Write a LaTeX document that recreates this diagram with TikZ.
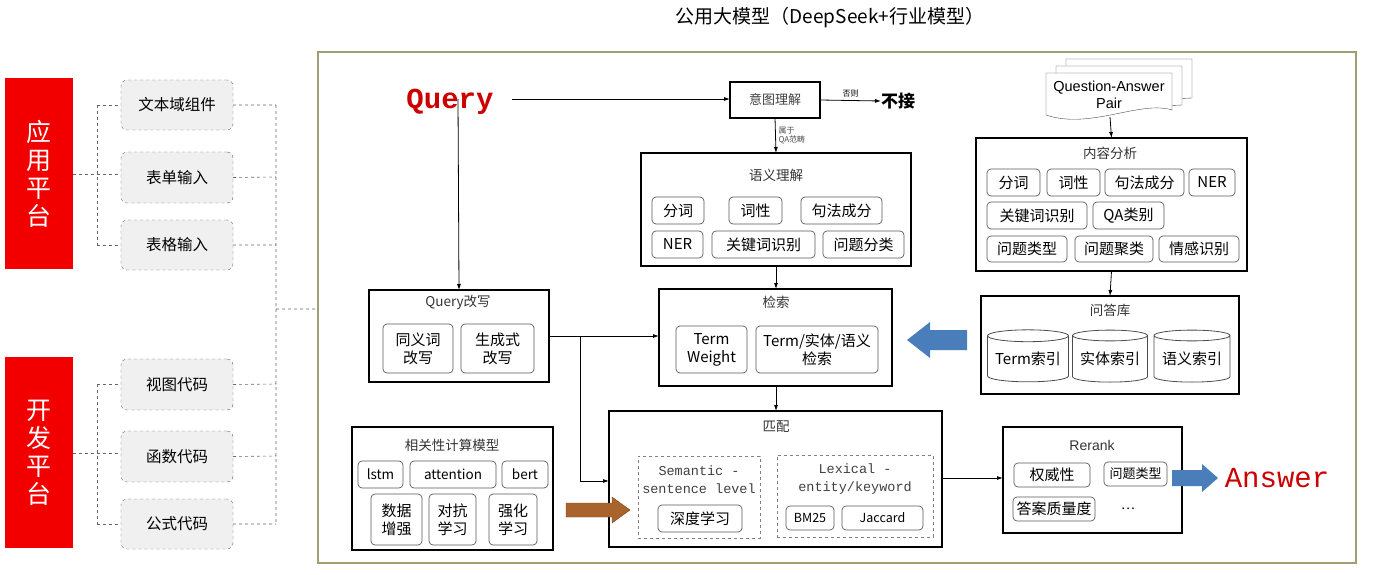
\documentclass[tikz,border=0pt]{standalone}
\usepackage{fontspec}
\setmainfont{Liberation Sans}
\newfontfamily\cjk{Noto Sans CJK SC}
\newfontfamily\mono{Liberation Mono}
\usetikzlibrary{shapes.geometric,arrows.meta}
\newcommand\bx[7]{\node[#1,minimum width={(#5-#3)*1pt},minimum height={(#6-#4)*1pt}] (#2) at ({(#3+#5)/2},{(#4+#6)/2}) {#7};}
\definecolor{bl}{HTML}{4A7EBB}
\definecolor{br}{HTML}{A8642C}
\begin{document}
\begin{tikzpicture}[x=1pt,y=-1pt,
  every node/.style={inner sep=0pt,outer sep=0pt,font=\cjk\fontsize{13}{15}\selectfont,align=center},
  big/.style={draw,line width=1.6pt},
  rb/.style={draw=black!65,rounded corners=4pt,line width=0.7pt,font=\cjk\fontsize{15}{18}\selectfont},
  lb/.style={draw=black!60,dashed,fill=black!6,rounded corners=6pt,font=\cjk\fontsize{15.5}{18}\selectfont},
  red/.style={fill=red!95!black,text=white,font=\cjk\fontsize{25}{28}\selectfont},
  dsh/.style={draw=black!50,dashed,line width=0.6pt},
  dl/.style={black!60,dashed,line width=0.6pt},
  ar/.style={-{Latex[length=6pt,width=4pt]},line width=0.8pt},
  ttl/.style={font=\cjk\fontsize{13.5}{15}\selectfont,text=black!80},
  cyl/.style={cylinder,shape border rotate=90,aspect=0.18,draw=black!70,line width=0.8pt,minimum width=#1,font=\cjk\fontsize{15}{17}\selectfont}]
\useasboundingbox (0,0) rectangle (1376,575);
\node[font=\cjk\fontsize{19}{22}\selectfont] (title) at (830,18) {公用大模型（DeepSeek+行业模型）};
\draw[draw=black!30!yellow!40!gray,line width=1.2pt] (318,52) rectangle (1356,563);
% red platforms
\bx{red}{app}{5}{78}{73}{269}{应\\用\\平\\台}
\bx{red}{dev}{5}{357}{73}{548}{开\\发\\平\\台}
\bx{lb}{l1}{121}{80}{233}{130}{文本域组件}
\bx{lb}{l2}{121}{152}{233}{203}{表单输入}
\bx{lb}{l3}{121}{220}{233}{270}{表格输入}
\bx{lb}{l4}{121}{359}{233}{410}{视图代码}
\bx{lb}{l5}{121}{431}{233}{482}{函数代码}
\bx{lb}{l6}{121}{499}{233}{549}{公式代码}
\coordinate (ja) at (97,174); \coordinate (jd) at (97,453); \coordinate (jr) at (276,309);
\draw[dl] (app.east|-ja) -- (ja) (97,105) -- (97,245) (97,105) -- (l1.west|-97,105) (ja) -- (l2.west|-ja) (97,245) -- (l3.west|-97,245);
\draw[dl] (dev.east|-jd) -- (jd) (97,384) -- (97,524) (97,384) -- (l4.west|-97,384) (jd) -- (l5.west|-jd) (97,524) -- (l6.west|-97,524);
\draw[dl] (l1.east) -- (276,105) (l2.east) -- (276,177) (l3.east) -- (276,245) (l4.east) -- (276,384) (l5.east) -- (276,456) (l6.east) -- (276,524) (276,105) -- (276,524) (jr) -- (318,309);
% query
\node[font=\mono\bfseries\fontsize{29}{32}\selectfont,text=red!80!black] (q) at (450,102) {Query};
\bx{big}{yt}{730}{82}{820}{118}{\color{black!75}意图理解}
\node[font=\cjk\bfseries\fontsize{17}{19}\selectfont] (bj) at (898,101) {不接};
\draw[ar] (512,99) -- (yt.west|-512,99);
\draw[ar] (yt.east) -- (bj.west) node[midway,above=3pt,font=\cjk\fontsize{8}{9}\selectfont] {否则};
\bx{big}{yy}{641}{153}{911}{266}{}
\node[ttl] at (776,175) {语义理解};
\draw[ar] (yt.south) -- (yy.north) node[midway,right=3pt,font=\cjk\fontsize{8}{9}\selectfont,align=left,text=black!70] {属于\\QA范畴};
\bx{rb}{a1}{652}{197}{704}{224}{分词}
\bx{rb}{a2}{729}{197}{782}{224}{词性}
\bx{rb}{a3}{801}{197}{882}{224}{句法成分}
\bx{rb}{a4}{652}{231}{703}{258}{NER}
\bx{rb}{a5}{712}{231}{815}{258}{关键词识别}
\bx{rb}{a6}{823}{231}{904}{258}{问题分类}
% query rewrite
\bx{big}{qr}{369}{290}{549}{382}{}
\node[ttl] at (458,302) {Query改写};
\bx{rb}{q1}{383}{324}{453}{373}{同义词\\改写}
\bx{rb}{q2}{461}{324}{534}{373}{生成式\\改写}
\draw[ar] (458,99) -- (qr.north);
% retrieval
\bx{big}{js}{659}{289}{892}{386}{}
\node[ttl] at (776,302) {检索};
\bx{rb}{t1}{676}{326}{747}{373}{Term\\Weight}
\bx{rb}{t2}{756}{326}{878}{373}{Term/实体/语义\\检索}
\draw[ar] (yy.south) -- (776,289);
\draw[ar] (549,336) -- (js.west|-549,336);
% match
\bx{big}{pp}{609}{411}{942}{547}{}
\node[ttl] at (776,427) {匹配};
\draw[ar] (580,336) -- (580,481) -- (pp.west|-580,481);
\draw[ar] (776,386) -- (776,411);
\bx{dsh}{sem}{638}{456}{760}{538}{}
\bx{dsh}{lex}{777}{455}{933}{537}{}
\node[font=\mono\fontsize{13.5}{18}\selectfont,text=black!75] at (699,480) {Semantic -\\sentence level};
\node[font=\mono\fontsize{13.5}{18}\selectfont,text=black!75] at (855,479) {Lexical -\\entity/keyword};
\bx{rb}{m1}{658}{505}{742}{532}{深度学习}
\bx{rb}{m2}{786}{506}{834}{530}{\fontsize{12.5}{14}\selectfont BM25}
\bx{rb}{m3}{842}{506}{923}{530}{\fontsize{12.5}{14}\selectfont Jaccard}
% rerank
\bx{big}{rr}{1003}{427}{1182}{533}{}
\node[ttl,font=\fontsize{14}{16}\selectfont] at (1092,445) {Rerank};
\draw[ar] (pp.east|-942,478) -- (rr.west|-942,478);
\bx{rb}{r1}{1014}{463}{1090}{487}{权威性}
\bx{rb}{r2}{1104}{462}{1167}{486}{\fontsize{13}{15}\selectfont 问题类型}
\bx{rb}{r3}{1013}{497}{1095}{521}{答案质量度}
\node at (1128,509) {…};
\fill[bl] (1172,470) -- (1202,470) -- (1202,464) -- (1218,478) -- (1202,492) -- (1202,486) -- (1172,486) -- cycle;
\node[font=\mono\fontsize{29}{32}\selectfont,text=red!80!black] (ans) at (1277,478) {Answer};
% QA pair stack
\foreach \d in {2,1} {
 \draw[fill=white,draw=black!70] ({1046+10*\d},{73-7*\d}) -- ({1172+10*\d},{73-7*\d}) -- ({1172+10*\d},{112-7*\d}) -- ({1046+10*\d},{118-7*\d}) -- cycle;}
\draw[fill=white,draw=black!70] (1046,73) -- (1172,73) -- (1172,110) .. controls (1140,100) and (1090,130) .. (1046,115) -- cycle;
\node[font=\fontsize{14.5}{17}\selectfont] (qa) at (1109,95) {Question-Answer\\Pair};
\bx{big}{nr}{976}{138}{1247}{271}{}
\node[ttl] at (1110,153) {内容分析};
\draw[ar] (1110,117) -- (nr.north);
\bx{rb}{c1}{987}{169}{1040}{196}{分词}
\bx{rb}{c2}{1047}{169}{1100}{196}{词性}
\bx{rb}{c3}{1105}{169}{1184}{196}{句法成分}
\bx{rb}{c4}{1189}{169}{1235}{196}{NER}
\bx{rb}{c5}{987}{202}{1087}{229}{关键词识别}
\bx{rb}{c6}{1093}{202}{1164}{229}{QA类别}
\bx{rb}{c7}{987}{236}{1067}{262}{问题类型}
\bx{rb}{c8}{1075}{236}{1153}{262}{问题聚类}
\bx{rb}{c9}{1159}{236}{1239}{262}{情感识别}
\bx{big}{wd}{981}{296}{1239}{394}{}
\node[ttl] at (1110,310) {问答库};
\draw[ar] (nr.south) -- (wd.north);
\node[cyl=81pt,minimum height=52pt] (d1) at (1028,359) {Term索引};
\node[cyl=75pt,minimum height=52pt] (d2) at (1110,359) {实体索引};
\node[cyl=76pt,minimum height=52pt] (d3) at (1192,359) {语义索引};
\fill[bl] (967,330) -- (930,330) -- (930,322) -- (907,340) -- (930,358) -- (930,350) -- (967,350) -- cycle;
% relevance
\bx{big}{rel}{352}{427}{553}{550}{}
\node[ttl] at (452,445) {相关性计算模型};
\bx{rb}{e1}{358}{461}{403}{488}{\fontsize{13.5}{15}\selectfont lstm}
\bx{rb}{e2}{410}{461}{496}{488}{\fontsize{13.5}{15}\selectfont attention}
\bx{rb}{e3}{502}{461}{548}{488}{\fontsize{13.5}{15}\selectfont bert}
\bx{rb}{e4}{371}{494}{422}{545}{数据\\增强}
\bx{rb}{e5}{429}{494}{476}{545}{对抗\\学习}
\bx{rb}{e6}{489}{494}{537}{545}{强化\\学习}
\draw[fill=br,draw=br!70!black] (566,503) -- (612,503) -- (612,497) -- (630,510) -- (612,523) -- (612,517) -- (566,517) -- cycle;
\end{tikzpicture}
\end{document}
